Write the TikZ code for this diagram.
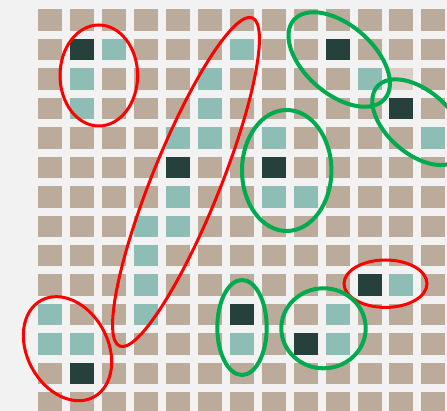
\documentclass[tikz,border=0pt]{standalone}
\definecolor{bgc}{HTML}{F2F2F2}
\definecolor{tanc}{HTML}{BBAB9A}
\definecolor{tealc}{HTML}{8DBDB4}
\definecolor{darkc}{HTML}{26403B}
\definecolor{lightc}{HTML}{D8CEC6}
\definecolor{redc}{HTML}{FF0000}
\definecolor{greenc}{HTML}{00AA4E}
\newcommand\gcell[3]{\fill[#1] ({38.3+31.92*#2},{9.3+29.46*#3}) rectangle ++(24,21.5);}
\begin{document}
\begin{tikzpicture}[x=1pt,y=-1pt,
  redl/.style={draw=redc,line width=3pt},
  greenl/.style={draw=greenc,line width=4pt}]
\fill[bgc] (0,0) rectangle (447,411);
\useasboundingbox (0,0) rectangle (447,411);
\clip (0,0) rectangle (447,411);
\foreach \c in {0,...,12}{\foreach \r in {0,...,13}{\gcell{tanc}{\c}{\r}}}
% dark cells
\foreach \c/\r in {1/1,9/1,11/3,4/5,7/5,10/9,6/10,8/11,1/12}{\gcell{darkc}{\c}{\r}}
% teal cells
\foreach \c/\r in {2/1,6/1,1/2,5/2,10/2,1/3,5/3,4/4,5/4,7/4,12/4,4/6,7/6,8/6,3/7,4/7,3/8,3/9,11/9,0/10,3/10,9/10,0/11,1/11,6/11,9/11}{\gcell{tealc}{\c}{\r}}
\gcell{lightc}{11}{2}
% red ellipses
\draw[redl] (98.8,75.5) ellipse [x radius=38.8pt, y radius=50.5pt];
\draw[redl, rotate around={68:(186,182)}] (186,182) ellipse [x radius=177pt, y radius=34pt];
\draw[redl] (385.5,283.7) ellipse [x radius=41.5pt, y radius=23.7pt];
\draw[redl, rotate around={28.6:(67.5,348.7)}] (67.5,348.7) ellipse [x radius=40.4pt, y radius=55pt];
% green ellipses
\draw[greenl, rotate around={-41:(339.2,59.5)}] (339.2,59.5) ellipse [x radius=60.2pt, y radius=34.4pt];
\draw[greenl, rotate around={-41:(418.2,122.2)}] (418.2,122.2) ellipse [x radius=54.3pt, y radius=31.5pt];
\draw[greenl] (286.7,170.5) ellipse [x radius=44.7pt, y radius=60.5pt];
\draw[greenl] (242,327.5) ellipse [x radius=24.7pt, y radius=47.5pt];
\draw[greenl] (323.5,328.3) ellipse [x radius=42.2pt, y radius=40pt];
\end{tikzpicture}
\end{document}
